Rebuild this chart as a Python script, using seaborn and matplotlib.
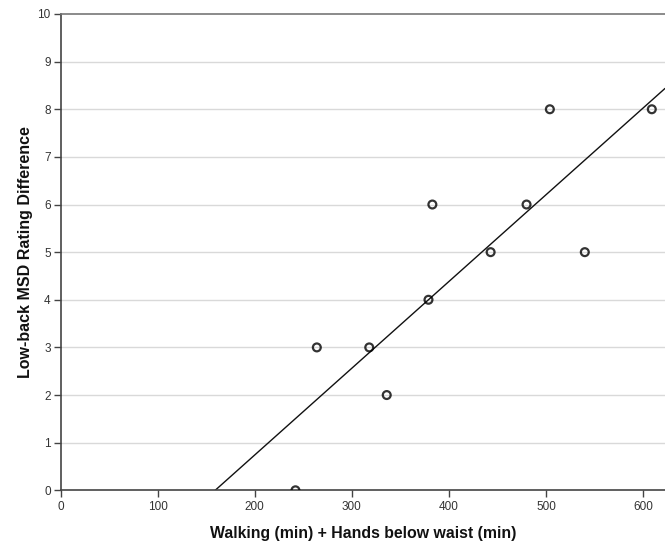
import matplotlib
matplotlib.use("Agg")
import matplotlib.pyplot as plt
import seaborn as sns
import pandas as pd

# Combined exposure time (min) and low-back MSD rating difference
exposure_min = [242, 264, 318, 336, 379, 383, 443, 480, 504, 540, 609]
rating_diff = [0, 3, 3, 2, 4, 6, 5, 6, 8, 5, 8]
x_ticks = [0, 100, 200, 300, 400, 500, 600]
y_ticks = list(range(0, 11))

df = pd.DataFrame({"x": exposure_min, "y": rating_diff})

sns.set_theme(style="white")
plt.rcParams["font.family"] = ["Liberation Sans", "DejaVu Sans"]

fig = plt.figure(figsize=(6.65, 5.44), dpi=100)
ax = fig.add_axes([60.5 / 665, 1 - 490.3 / 544, (665 - 60.5) / 665, (490.3 - 14) / 544])

# limits first so the fit line spans the whole plotting area
ax.set_xlim(0, 622.6)
ax.set_ylim(0, 10)

for yv in y_ticks[1:-1]:
    ax.axhline(yv, color="#d9d9d9", lw=1.0, zorder=0)

sns.regplot(data=df, x="x", y="y", ax=ax, ci=None, truncate=False,
            scatter_kws=dict(s=32, facecolors="none", edgecolors="black",
                             linewidths=1.6, zorder=3),
            line_kws=dict(color="#111111", lw=1.0, zorder=2))

ax.set_xlim(0, 622.6)
ax.set_ylim(0, 10)
ax.set_xticks(x_ticks)
ax.set_yticks(y_ticks)

for side in ["left", "bottom"]:
    ax.spines[side].set_color("#444444")
    ax.spines[side].set_linewidth(1.2)
ax.spines["top"].set_color("#777777")
ax.spines["top"].set_linewidth(1.2)
ax.spines["right"].set_visible(False)

ax.tick_params(axis="both", which="major", direction="out", length=5, width=1,
               color="#444444", labelsize=8.5, labelcolor="#333333", pad=2,
               bottom=True, left=True)
ax.tick_params(axis="x", pad=3)

ax.set_xlabel("Walking (min) + Hands below waist (min)", fontsize=11.4,
              fontweight="bold", color="#111111", labelpad=9)
ax.set_ylabel("Low-back MSD Rating Difference", fontsize=11.5,
              fontweight="bold", color="#111111", labelpad=3)

fig.savefig("out.png", dpi=100)
